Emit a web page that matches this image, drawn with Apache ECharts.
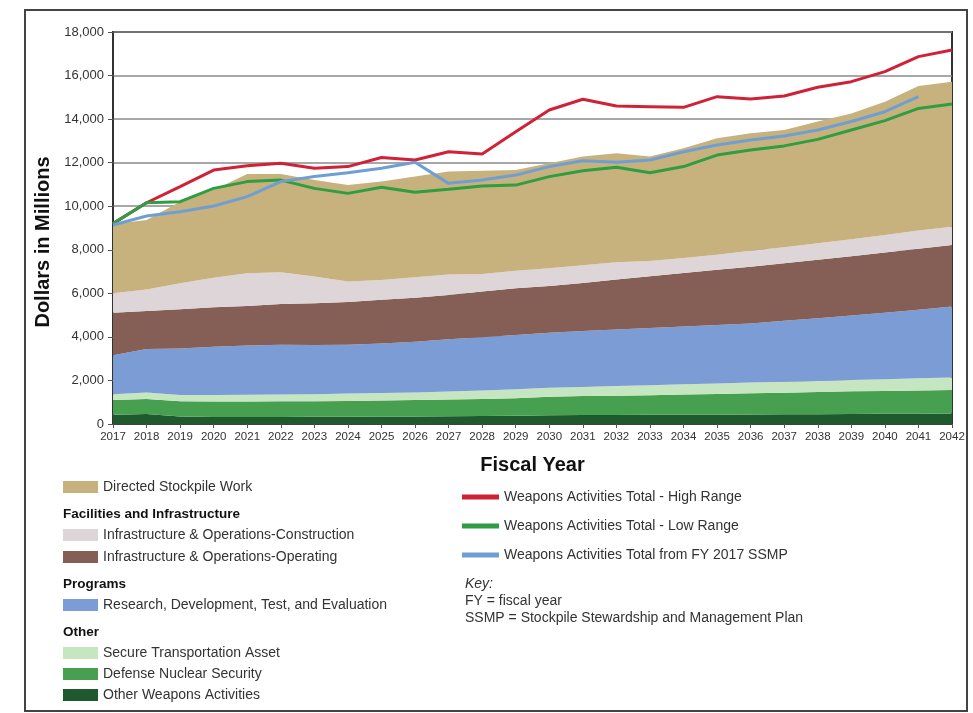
<!DOCTYPE html>
<html>
<head>
<meta charset="utf-8">
<script src="https://cdn.jsdelivr.net/npm/echarts@6/dist/echarts.min.js"></script>
<style>
  html, body { margin: 0; padding: 0; background: #fff; }
  #chart { width: 973px; height: 713px; }
</style>
</head>
<body>
<div id="chart"></div>
<script>
// fiscal years on the x axis
const years = ['2017','2018','2019','2020','2021','2022','2023','2024','2025','2026','2027','2028','2029',
  '2030','2031','2032','2033','2034','2035','2036','2037','2038','2039','2040','2041','2042'];

// stacked components, dollars in millions (bottom -> top)
const otherWeapons = [420,460,340,320,320,320,330,330,340,350,360,370,380,400,410,410,420,430,430,440,450,450,460,470,470,480];
const defenseNuclearSecurity = [680,690,700,710,710,720,720,730,740,750,760,780,800,850,870,890,900,920,950,970,990,1020,1040,1050,1070,1080];
const secureTransport = [270,300,290,300,310,310,320,340,340,350,370,390,410,410,420,440,460,470,480,490,500,510,520,540,560,580];
const rdtE = [1790,1990,2140,2220,2270,2290,2260,2240,2280,2330,2400,2440,2500,2530,2570,2600,2630,2660,2690,2720,2800,2880,2960,3050,3150,3250];
const ioOperating = [1950,1750,1800,1810,1810,1870,1910,1960,2000,2020,2030,2100,2140,2150,2210,2290,2370,2450,2530,2600,2640,2680,2720,2770,2800,2830];
const ioConstruction = [890,990,1190,1360,1500,1460,1230,940,910,940,950,810,810,810,810,800,700,690,690,730,740,760,780,800,830,840];
const directedStockpile = [3180,3190,3740,4030,4560,4510,4430,4430,4520,4620,4720,4740,4620,4820,4990,5000,4800,5040,5350,5400,5380,5590,5780,6120,6640,6660];

// totals (lines)
const highRange = [9200,10160,10900,11660,11860,11970,11740,11820,12240,12120,12500,12400,13420,14420,14910,14600,14570,14540,15030,14920,15060,15460,15720,16180,16870,17170];
const lowRange = [9210,10160,10210,10820,11130,11200,10820,10590,10870,10640,10780,10930,10970,11360,11630,11790,11540,11820,12350,12580,12770,13070,13500,13930,14490,14690];
const ssmp2017 = [9140,9550,9750,10010,10440,11130,11360,11540,11740,12015,11050,11200,11430,11820,12090,12015,12120,12500,12810,13040,13220,13500,13890,14340,15030,null];

const FONT = '"Liberation Sans", Arial, Helvetica, sans-serif';

const chart = echarts.init(document.getElementById('chart'), null, { renderer: 'canvas' });

function area(name, data, color) {
  return {
    name, type: 'line', stack: 'total', data,
    showSymbol: false, symbol: 'none',
    lineStyle: { width: 0 },
    itemStyle: { color },
    areaStyle: { color, opacity: 1 },
    emphasis: { disabled: true },
  };
}

function total(name, data, color) {
  return {
    name, type: 'line', data, z: 5,
    showSymbol: false, symbol: 'none',
    lineStyle: { width: 3, color },
    itemStyle: { color },
    emphasis: { disabled: true },
  };
}

// legend block helper (swatch legends on the left)
function swatchLegend(names, top, gap) {
  return {
    data: names, left: 63, top, height: 90, orient: 'vertical', padding: 0,
    icon: 'rect', itemWidth: 35, itemHeight: 12, itemGap: gap,
    selectedMode: false,
    textStyle: { fontFamily: FONT, fontSize: 14, color: '#333' },
  };
}

const option = {
  animation: false,
  backgroundColor: '#fff',
  grid: { left: 113, top: 32, right: 21, bottom: 289, show: true, borderColor: '#333', borderWidth: 2 },
  xAxis: {
    type: 'category', data: years, boundaryGap: false,
    name: 'Fiscal Year', nameLocation: 'middle', nameGap: 31,
    nameTextStyle: { fontFamily: FONT, fontSize: 20, fontWeight: 'bold', color: '#111' },
    axisLine: { lineStyle: { color: '#333', width: 1.5 } },
    axisTick: { show: true, length: 4, lineStyle: { color: '#555' } },
    axisLabel: { interval: 0, fontFamily: FONT, fontSize: 11.5, color: '#333', margin: 7 },
  },
  yAxis: {
    type: 'value', min: 0, max: 18000, interval: 2000,
    name: 'Dollars in Millions', nameLocation: 'middle', nameGap: 57,
    nameTextStyle: { fontFamily: FONT, fontSize: 20, fontWeight: 'bold', color: '#111', padding: [0, 28, 0, 0] },
    axisLine: { show: true, lineStyle: { color: '#333', width: 1.5 } },
    axisTick: { show: true, length: 5, lineStyle: { color: '#555' } },
    axisLabel: {
      fontFamily: FONT, fontSize: 13, color: '#333', margin: 9,
      formatter: v => v.toLocaleString('en-US'),
    },
    splitLine: { lineStyle: { color: '#8a8a8a', width: 1.5 } },
  },
  legend: [
    swatchLegend(['Directed Stockpile Work'], 480, 8),
    swatchLegend(['Infrastructure & Operations-Construction', 'Infrastructure & Operations-Operating'], 528, 8),
    swatchLegend(['Research, Development, Test, and Evaluation'], 598, 8),
    swatchLegend(['Secure Transportation Asset', 'Defense Nuclear Security', 'Other Weapons Activities'], 646, 7),
    {
      data: ['Weapons Activities Total - High Range', 'Weapons Activities Total - Low Range', 'Weapons Activities Total from FY 2017 SSMP'],
      left: 462, top: 490, orient: 'vertical', padding: 0,
      icon: 'rect', itemWidth: 37, itemHeight: 5, itemGap: 15,
      selectedMode: false,
      textStyle: { fontFamily: FONT, fontSize: 14, color: '#333' },
    },
  ],
  graphic: [
    { type: 'rect', shape: { x: 25, y: 10, width: 942, height: 701 }, style: { fill: 'none', stroke: '#444', lineWidth: 2 }, silent: true },
    { type: 'text', left: 63, top: 507, style: { text: 'Facilities and Infrastructure', font: 'bold 13.5px ' + FONT, fill: '#111' } },
    { type: 'text', left: 63, top: 577, style: { text: 'Programs', font: 'bold 13.5px ' + FONT, fill: '#111' } },
    { type: 'text', left: 63, top: 625, style: { text: 'Other', font: 'bold 13.5px ' + FONT, fill: '#111' } },
    { type: 'text', left: 465, top: 577, style: { text: 'Key:', font: 'italic 14px ' + FONT, fill: '#333' } },
    { type: 'text', left: 465, top: 594, style: { text: 'FY = fiscal year', font: '14px ' + FONT, fill: '#333' } },
    { type: 'text', left: 465, top: 611, style: { text: 'SSMP = Stockpile Stewardship and Management Plan', font: '14px ' + FONT, fill: '#333' } },
  ],
  series: [
    area('Other Weapons Activities', otherWeapons, '#1f5a2e'),
    area('Defense Nuclear Security', defenseNuclearSecurity, '#47a04f'),
    area('Secure Transportation Asset', secureTransport, '#c5e6c0'),
    area('Research, Development, Test, and Evaluation', rdtE, '#7b9cd4'),
    area('Infrastructure & Operations-Operating', ioOperating, '#855e55'),
    area('Infrastructure & Operations-Construction', ioConstruction, '#ddd5d7'),
    area('Directed Stockpile Work', directedStockpile, '#c7b17d'),
    total('Weapons Activities Total - High Range', highRange, '#cf2236'),
    total('Weapons Activities Total - Low Range', lowRange, '#2f9d41'),
    total('Weapons Activities Total from FY 2017 SSMP', ssmp2017, '#6f9fd2'),
  ],
};

chart.setOption(option);
</script>
</body>
</html>
